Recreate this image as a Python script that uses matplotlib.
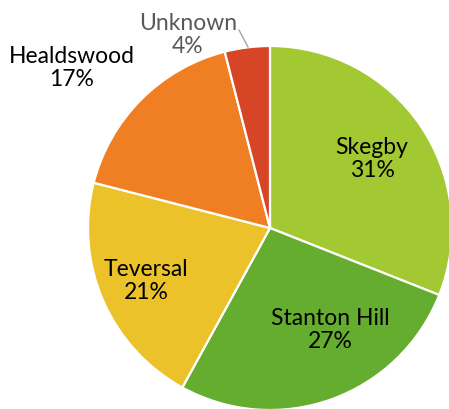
import matplotlib.pyplot as plt

# Share of respondents by area
areas = ["Skegby", "Stanton Hill", "Teversal", "Healdswood", "Unknown"]
shares = [31, 27, 21, 17, 4]
colors = ["#a2c832", "#64ad2e", "#ebc229", "#ef7f22", "#d64526"]

W, H = 449, 409
fig = plt.figure(figsize=(W / 100, H / 100), dpi=100)
ax = fig.add_axes([0, 0, 1, 1])

cx, cy, r = 270, 228, 182  # pie centre and radius in pixels


def px(x, y):
    return (x - cx) / r, (cy - y) / r


wedges, _ = ax.pie(
    shares,
    colors=colors,
    startangle=90,
    counterclock=False,
    radius=1,
    wedgeprops=dict(edgecolor="white", linewidth=1.6),
)
ax.set_aspect("auto")
ax.set_xlim((0 - cx) / r, (W - cx) / r)
ax.set_ylim((cy - H) / r, cy / r)
ax.axis("off")

font = dict(family="Lato", fontsize=16.5, ha="center", va="center", linespacing=1.12)
label_pos = {
    "Skegby": (372, 159),
    "Stanton Hill": (330, 330),
    "Teversal": (146, 281),
    "Healdswood": (72, 68),
    "Unknown": (188, 35),
}
for name, val in zip(areas, shares):
    x, y = px(*label_pos[name])
    color = "#595959" if name == "Unknown" else "black"
    ax.text(x, y, f"{name}\n{val}%", color=color, **font)

# leader line for the small slice
x0, y0 = px(239, 30)
x1, y1 = px(248, 47)
ax.plot([x0, x1], [y0, y1], color="#a6a6a6", linewidth=1)

fig.savefig("out.png", dpi=100)
